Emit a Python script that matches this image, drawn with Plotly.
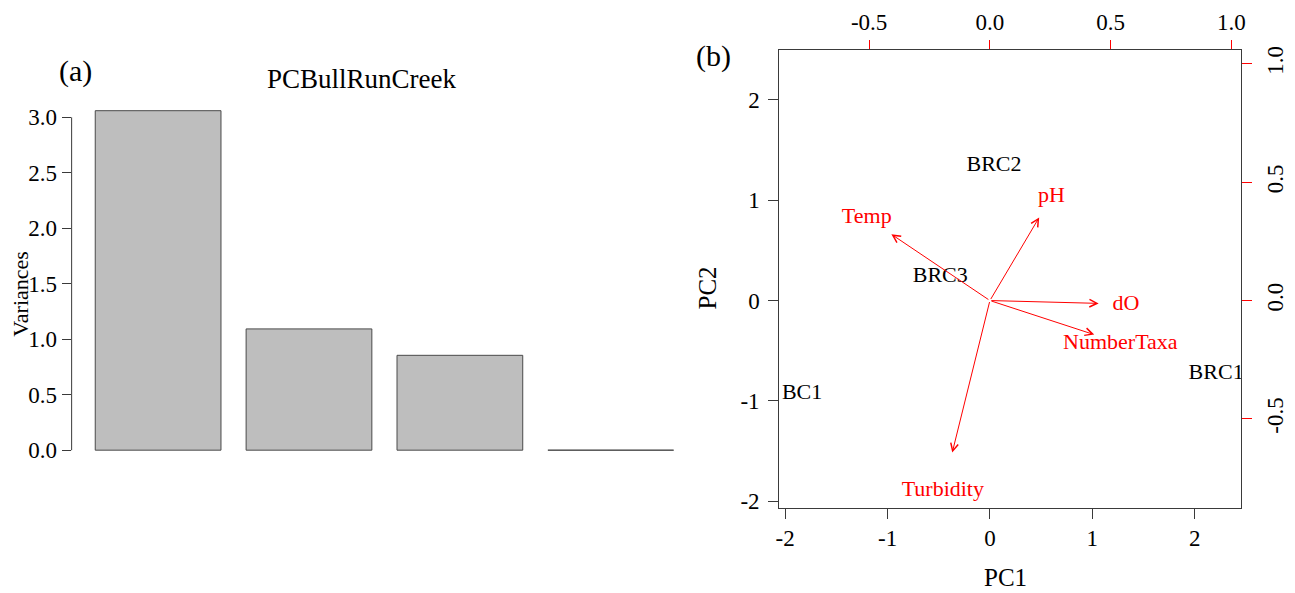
import plotly.graph_objects as go

# ---------------- data ----------------
components = [1, 2, 3, 4]
variances = [3.06, 1.093, 0.855, 0.0]

sites = ["BRC2", "BRC3", "BC1", "BRC1"]
pc1_scores = [0.04, -0.485, -1.835, 2.21]
pc2_scores = [1.34, 0.24, -0.925, -0.73]

variables = ["Temp", "pH", "dO", "NumberTaxa", "Turbidity"]
pc1_load = [-0.51, 0.255, 0.563, 0.54, -0.195]
pc2_load = [0.35, 0.439, -0.015, -0.18, -0.803]

bar_ticks = [0.0, 0.5, 1.0, 1.5, 2.0, 2.5, 3.0]
bar_ticktext = ["0.0", "0.5", "1.0", "1.5", "2.0", "2.5", "3.0"]
pc_ticks = [-2, -1, 0, 1, 2]
pc_ticktext = ["-2", "-1", "0", "1", "2"]
load_ticks = [-0.5, 0.0, 0.5, 1.0]
load_ticktext = ["-0.5", "0.0", "0.5", "1.0"]

FONT = "Liberation Serif"
W, H = 1295, 593
OFF = 8  # page body margin
AX = "#3a3a3a"


def px(x):
    return (x - OFF) / W


def py(y):
    return 1 - (y - OFF) / H


fig = go.Figure()

# ---------------- (a) scree bar plot ----------------
fig.add_trace(go.Bar(
    x=components, y=variances, width=0.8333,
    marker=dict(color="#bebebe", line=dict(color="#4a4a4a", width=1)),
    xaxis="x", yaxis="y", showlegend=False, hoverinfo="skip"))

# ---------------- (b) biplot ----------------
fig.add_trace(go.Scatter(
    x=pc1_scores, y=pc2_scores, text=sites, mode="text",
    textposition="middle center",
    textfont=dict(family=FONT, size=22, color="black"),
    xaxis="x2", yaxis="y2", showlegend=False, hoverinfo="skip"))

fig.add_trace(go.Scatter(
    x=pc1_load, y=pc2_load, text=variables, mode="text",
    textposition="middle center",
    textfont=dict(family=FONT, size=22, color="red"),
    xaxis="x3", yaxis="y3", showlegend=False, hoverinfo="skip"))

annotations = []
for lx, ly in zip(pc1_load, pc2_load):
    annotations.append(dict(
        x=0.8 * lx, y=0.8 * ly, ax=0, ay=0,
        xref="x3", yref="y3", axref="x3", ayref="y3",
        text="", showarrow=True, arrowhead=5, arrowsize=1.5,
        arrowwidth=1, arrowcolor="red", standoff=0, startstandoff=0))


def txt(s, x, y, size=22, angle=0):
    return dict(text=s, x=px(x), y=py(y), xref="paper", yref="paper",
                showarrow=False, xanchor="center", yanchor="middle",
                textangle=angle, font=dict(family=FONT, size=size, color="black"))


annotations += [
    txt("(a)", 72, 68, size=30),
    txt("PCBullRunCreek", 360, 77, size=27),
    txt("Variances", 17, 296, size=22, angle=-90),
    txt("(b)", 714, 53, size=30),
    txt("PC1", 1008, 586, size=25),
    txt("PC2", 708, 290, size=25, angle=-90),
]

tickfont = dict(family=FONT, size=23, color="black")

fig.update_layout(
    width=W, height=H,
    margin=dict(l=0, r=0, t=0, b=0),
    paper_bgcolor="white", plot_bgcolor="white",
    showlegend=False,
    annotations=annotations,
    xaxis=dict(domain=[px(68), px(700)], range=[0.4269, 4.5896],
               visible=False, anchor="y"),
    yaxis=dict(domain=[py(460), py(100)], range=[-0.0353, 3.1385],
               anchor="x", showgrid=False, zeroline=False, showline=False,
               tickvals=bar_ticks, ticktext=bar_ticktext,
               ticks="outside", ticklen=9, tickcolor=AX, tickwidth=1,
               ticklabelstandoff=0, tickfont=tickfont),
    xaxis2=dict(domain=[px(780), px(1245)], range=[-2.0583, 2.4563],
                anchor="y2", showgrid=False, zeroline=False,
                showline=True, mirror=True, linecolor=AX, linewidth=1,
                tickvals=pc_ticks, ticktext=pc_ticktext,
                ticks="outside", ticklen=10, tickcolor=AX,
                ticklabelstandoff=0, tickfont=tickfont),
    yaxis2=dict(domain=[py(515), py(47)], range=[-2.0643, 2.4927],
                anchor="x2", showgrid=False, zeroline=False,
                showline=True, mirror=True, linecolor=AX, linewidth=1,
                tickvals=pc_ticks, ticktext=pc_ticktext,
                ticks="outside", ticklen=10, tickcolor=AX,
                ticklabelstandoff=4, tickfont=tickfont),
    xaxis3=dict(overlaying="x2", side="top", anchor="y3",
                range=[-0.8724, 1.0412], showgrid=False, zeroline=False,
                showline=False, tickvals=load_ticks, ticktext=load_ticktext,
                ticks="outside", ticklen=9, tickcolor="red",
                ticklabelstandoff=1, tickfont=tickfont),
    yaxis3=dict(overlaying="y2", side="right", anchor="x3",
                range=[-0.8760, 1.0579], showgrid=False, zeroline=False,
                showline=False, tickvals=load_ticks, ticktext=load_ticktext,
                ticks="outside", ticklen=10, tickcolor="red", tickangle=-90,
                ticklabelstandoff=3, tickfont=tickfont),
)

# axis line for bar chart spanning only the tick range
fig.add_shape(type="line", xref="x domain", yref="y", x0=0, x1=0,
              y0=bar_ticks[0], y1=bar_ticks[-1],
              line=dict(color=AX, width=1))

fig.write_html("out.html")
